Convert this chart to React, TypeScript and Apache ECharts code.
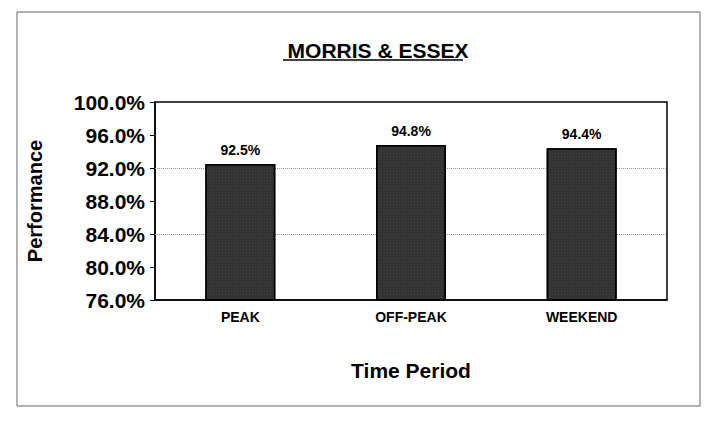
import React, { useEffect, useRef } from "react";
import * as echarts from "echarts";

const categories = ["PEAK", "OFF-PEAK", "WEEKEND"];
const performance = [92.5, 94.8, 94.4];
const valueLabels = ["92.5%", "94.8%", "94.4%"];
const dottedGridValues = [84, 92];
const titleText = "MORRIS & ESSEX";
const yAxisName = "Performance";
const xAxisName = "Time Period";

export default function App() {
  const ref = useRef<HTMLDivElement>(null);
  useEffect(() => {
    document.body.style.margin = "0";
    if (!ref.current) return;
    const chart = echarts.init(ref.current, null, { renderer: "svg" });
    const font = "Liberation Sans, Arial, sans-serif";
    chart.setOption({
      animation: false,
      backgroundColor: "#ffffff",
      textStyle: { fontFamily: font },
      title: {
        text: titleText,
        left: 373,
        top: 35,
        textAlign: "center",
        textStyle: { fontSize: 21, fontWeight: "bold", color: "#000", fontFamily: font },
      },
      graphic: [
        {
          type: "rect",
          shape: { x: 17, y: 12, width: 683, height: 394 },
          style: { fill: "none", stroke: "#666", lineWidth: 1 },
          silent: true,
        },
        {
          type: "line",
          shape: { x1: 283, y1: 60, x2: 463, y2: 60 },
          style: { stroke: "#000", lineWidth: 1.5 },
          silent: true,
        },
      ],
      grid: {
        left: 155,
        right: 41,
        top: 102,
        bottom: 121,
        show: true,
        borderColor: "#000",
        borderWidth: 1.5,
        backgroundColor: "transparent",
      },
      xAxis: {
        type: "category",
        data: categories,
        name: xAxisName,
        nameLocation: "middle",
        nameGap: 60,
        nameTextStyle: { fontSize: 21, fontWeight: "bold", color: "#000", fontFamily: font },
        axisLine: { lineStyle: { color: "#000", width: 1.5 } },
        axisTick: { show: false },
        axisLabel: { fontSize: 14, fontWeight: "bold", color: "#000", margin: 10, fontFamily: font },
      },
      yAxis: {
        type: "value",
        min: 76,
        max: 100,
        interval: 4,
        name: yAxisName,
        nameLocation: "middle",
        nameGap: 110,
        nameTextStyle: { fontSize: 20, fontWeight: "bold", color: "#000", fontFamily: font },
        axisLine: { show: true, lineStyle: { color: "#000", width: 1.5 } },
        axisTick: { show: true, length: 5, lineStyle: { color: "#000" } },
        splitLine: { show: false },
        axisLabel: {
          fontSize: 21,
          fontWeight: "bold",
          color: "#000",
          margin: 10,
          fontFamily: font,
          formatter: (v: number) => v.toFixed(1) + "%",
        },
      },
      series: [
        {
          type: "line",
          data: [],
          z: 1,
          silent: true,
          markLine: {
            silent: true,
            symbol: ["none", "none"],
            label: { show: false },
            lineStyle: { color: "#999", type: "dotted", width: 1 },
            data: dottedGridValues.map((v) => ({ yAxis: v })),
          },
        },
        {
          type: "bar",
          data: performance,
          z: 5,
          barWidth: "41%",
          itemStyle: {
            color: "#333333",
            borderColor: "#000",
            borderWidth: 1.5,
            decal: {
              symbol: "rect",
              symbolSize: 0.6,
              color: "rgba(200,200,200,0.4)",
              dashArrayX: [1, 2],
              dashArrayY: [1, 2],
              rotation: 0,
            },
          },
          label: {
            show: true,
            position: "top",
            distance: 7,
            fontSize: 14,
            fontWeight: "bold",
            color: "#000",
            fontFamily: font,
            formatter: (p: any) => valueLabels[p.dataIndex],
          },
        },
      ],
    });
    return () => chart.dispose();
  }, []);
  return <div ref={ref} style={{ width: 708, height: 421 }} />;
}
